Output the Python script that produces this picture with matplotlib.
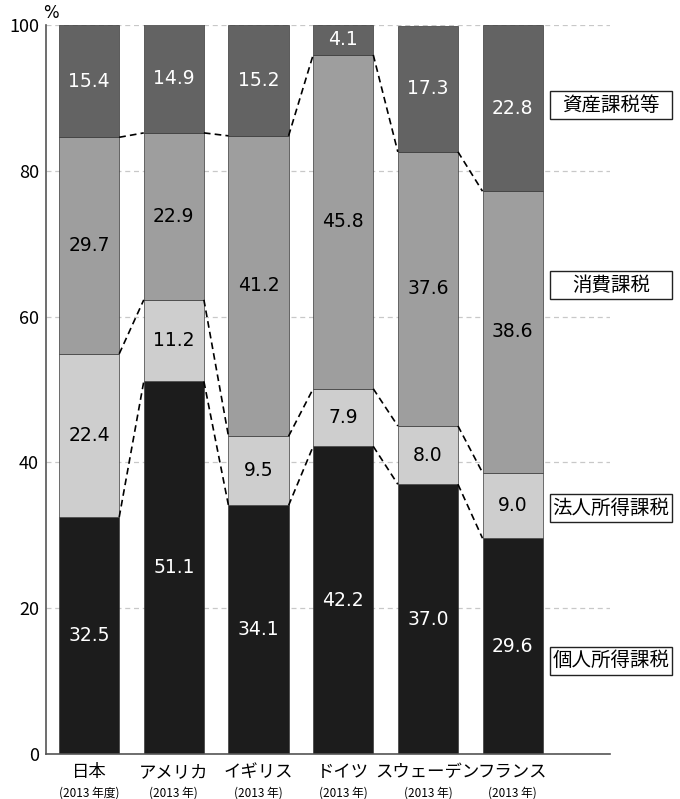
import numpy as np
import matplotlib
matplotlib.use('Agg')
import matplotlib.pyplot as plt
from matplotlib.patches import Rectangle

plt.rcParams['font.family'] = ['Noto Sans CJK JP', 'DejaVu Sans']

# Data (% of total tax revenue)
countries = ['日本', 'アメリカ', 'イギリス', 'ドイツ', 'スウェーデン', 'フランス']
years = ['(2013 年度)', '(2013 年)', '(2013 年)', '(2013 年)', '(2013 年)', '(2013 年)']
categories = ['個人所得課税', '法人所得課税', '消費課税', '資産課税等']
individual = [32.5, 51.1, 34.1, 42.2, 37.0, 29.6]
corporate = [22.4, 11.2, 9.5, 7.9, 8.0, 9.0]
consumption = [29.7, 22.9, 41.2, 45.8, 37.6, 38.6]
assets = [15.4, 14.9, 15.2, 4.1, 17.3, 22.8]
legend_y = [12.8, 33.7, 64.3, 89.0]

series = [individual, corporate, consumption, assets]
colors = ['#1c1c1c', '#cecece', '#9e9e9e', '#636363']
text_colors = ['white', 'black', 'black', 'white']

fig = plt.figure(figsize=(6.8, 7.99), dpi=100)
ax = fig.add_axes([0.0676, 0.0563, 0.8294, 0.9124])

x = np.arange(len(countries))
width = 0.71
bottom = np.zeros(len(countries))

for vals, c, tc in zip(series, colors, text_colors):
    vals = np.array(vals)
    ax.bar(x, vals, width, bottom=bottom, color=c, edgecolor='#3a3a3a',
           linewidth=0.5, zorder=2)
    for xi, b, v in zip(x, bottom, vals):
        ax.text(xi, b + v / 2, f'{v:.1f}', ha='center', va='center',
                fontsize=13.5, color=tc, family='DejaVu Sans', zorder=4)
    bottom = bottom + vals
    # dashed connectors between neighbouring bars
    if c != colors[-1]:
        for i in range(len(countries) - 1):
            ax.plot([x[i] + width / 2, x[i + 1] - width / 2],
                    [bottom[i], bottom[i + 1]], color='black',
                    linestyle=(0, (4, 2.5)), linewidth=1.2, zorder=3)

ax.set_xlim(-0.51, 6.15)
ax.set_ylim(0, 100)
ax.set_yticks(range(0, 101, 20))
ax.tick_params(axis='y', length=0, labelsize=13, pad=5)
ax.tick_params(axis='x', length=0)
ax.set_xticks([])
ax.yaxis.grid(True, color='#c8c8c8', linestyle=(0, (4, 3)), linewidth=0.9)
ax.set_axisbelow(True)
for s in ['top', 'right']:
    ax.spines[s].set_visible(False)
for s in ['left', 'bottom']:
    ax.spines[s].set_color('#555555')
    ax.spines[s].set_linewidth(1.2)

ax.text(-0.45, 100.4, '%', ha='center', va='bottom', fontsize=12,
        family='DejaVu Sans', clip_on=False)

# category labels under the bars
for xi, name, yr in zip(x, countries, years):
    ax.text(xi, -1.2, name, ha='center', va='top', fontsize=12.5,
            clip_on=False)
    ax.text(xi, -4.4, yr, ha='center', va='top', fontsize=8.5,
            clip_on=False)

# boxed legend labels on the right
box_x0, box_x1, box_h = 5.443, 6.883, 3.84
for name, ly in zip(categories, legend_y):
    ax.add_patch(Rectangle((box_x0, ly - box_h / 2), box_x1 - box_x0, box_h,
                           facecolor='white', edgecolor='#222222',
                           linewidth=1.0, clip_on=False, zorder=5))
    ax.text((box_x0 + box_x1) / 2, ly, name, ha='center', va='center',
            fontsize=14, clip_on=False, zorder=6)

plt.savefig('out.png', dpi=100)
